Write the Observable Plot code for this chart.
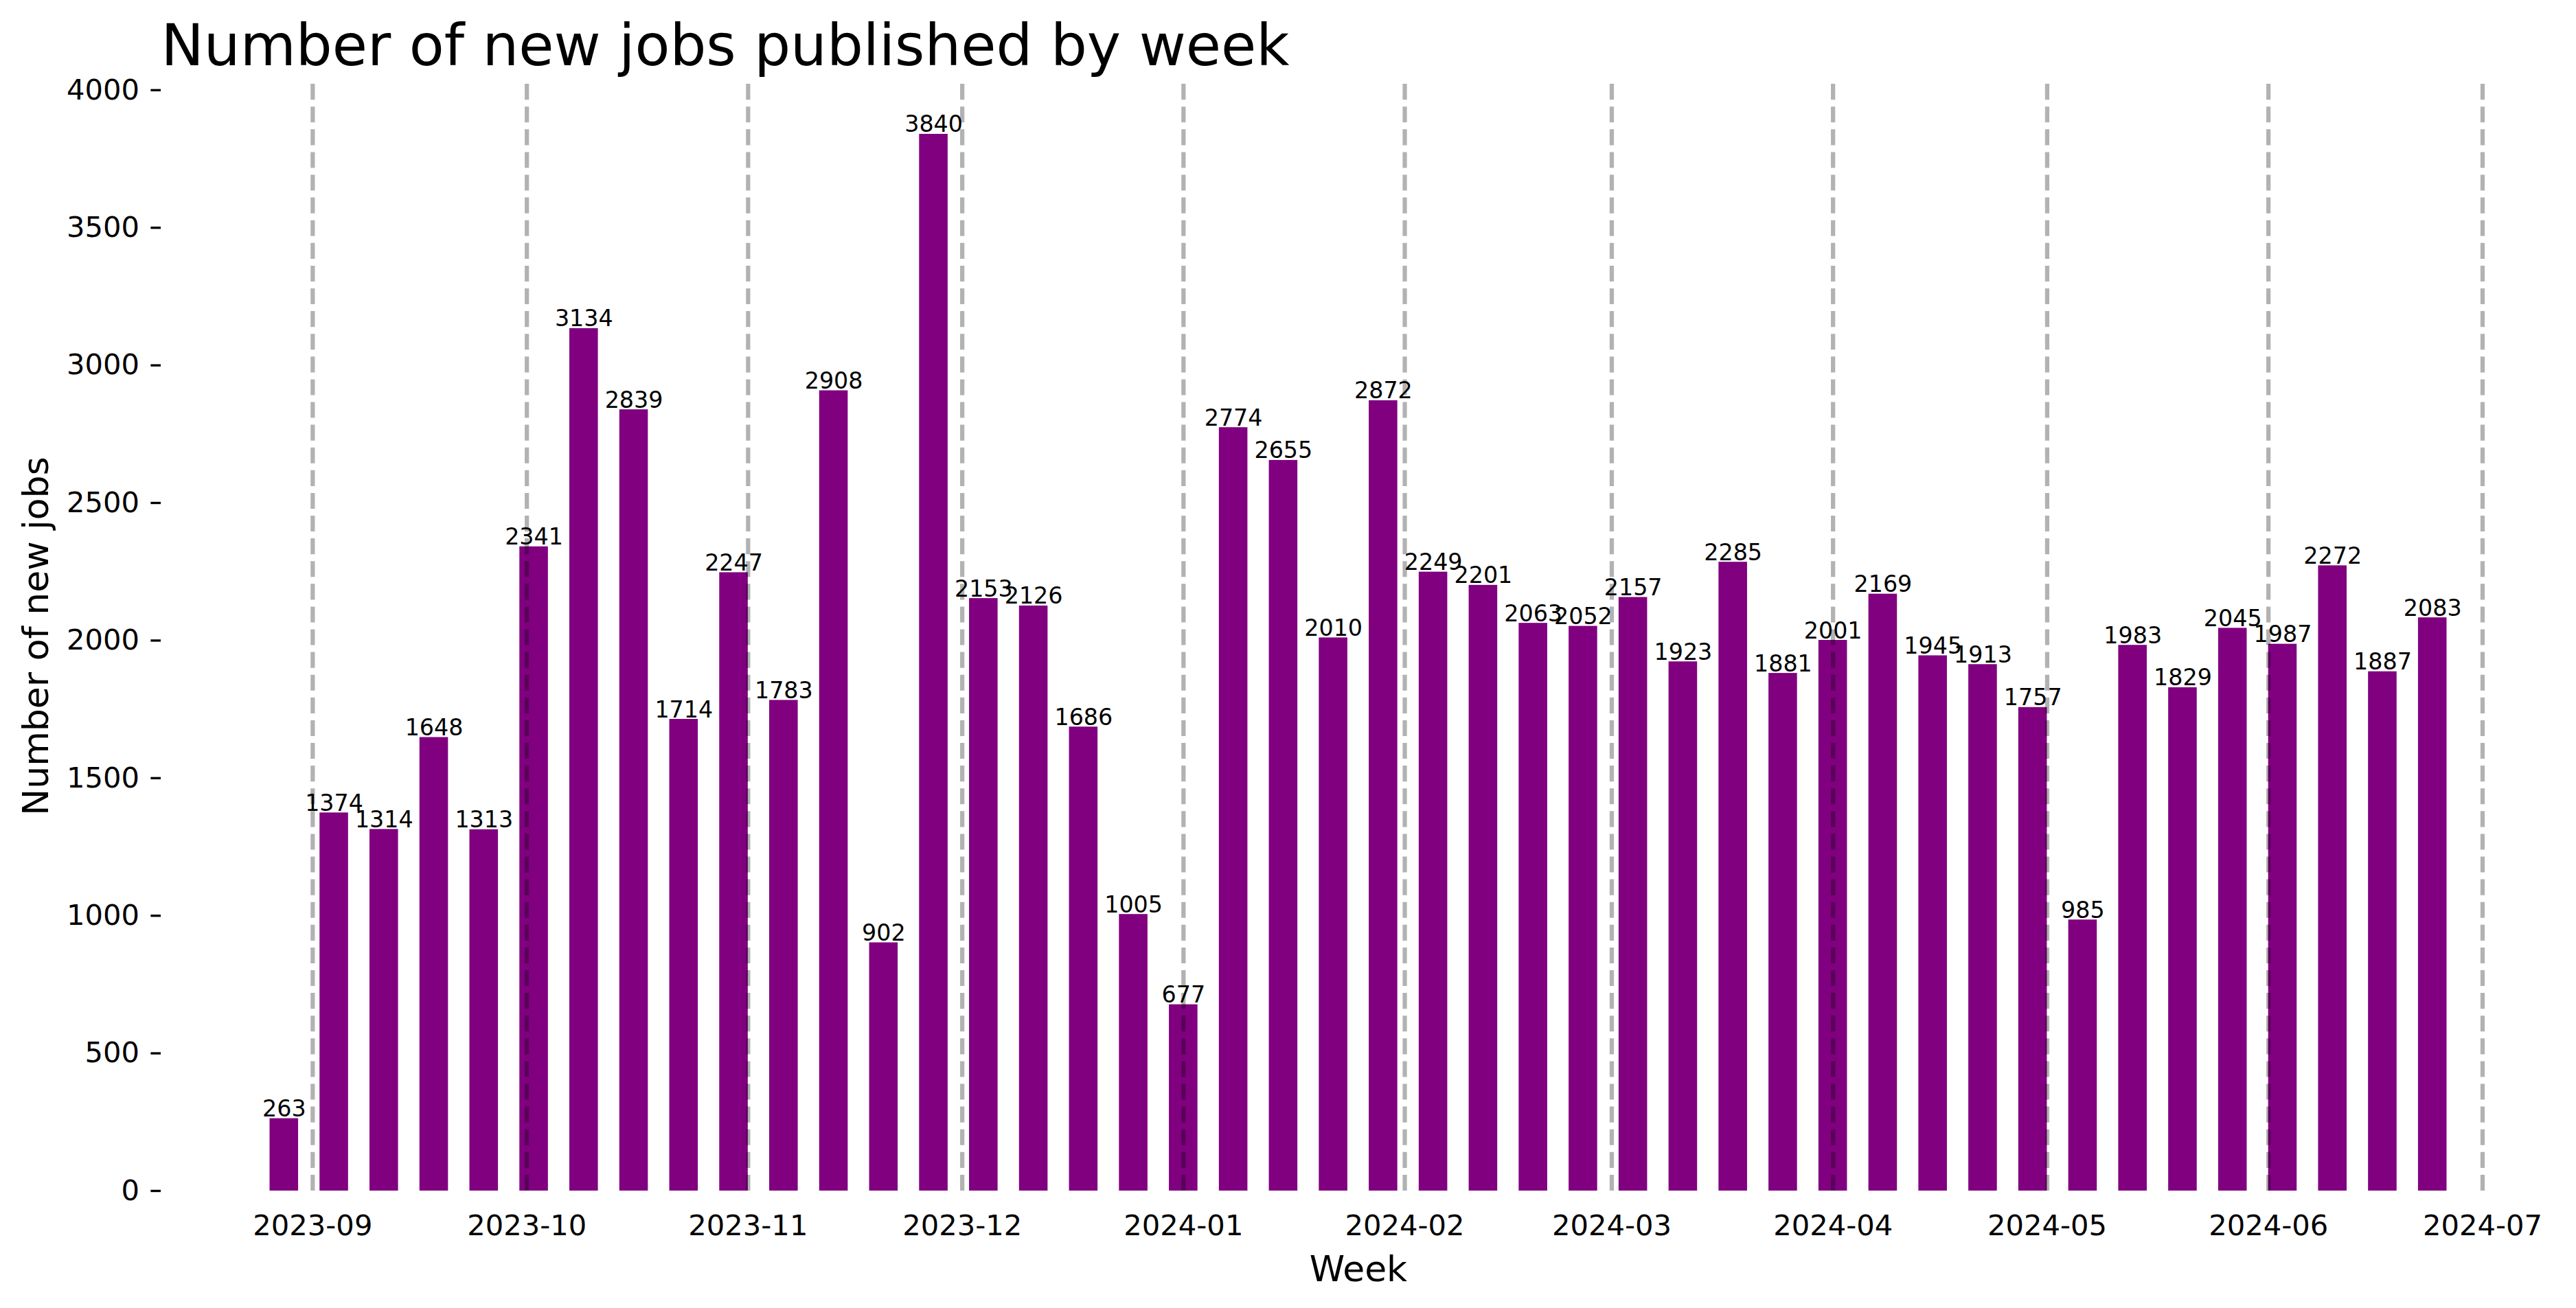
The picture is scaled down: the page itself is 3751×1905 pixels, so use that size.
<!DOCTYPE html>
<html>
<head>
<meta charset="utf-8">
<script src="https://cdn.jsdelivr.net/npm/d3@7"></script>
<script src="https://cdn.jsdelivr.net/npm/@observablehq/plot@0.6"></script>
<style>
  html, body { margin: 0; padding: 0; background: #ffffff; }
  #chart svg { display: block; }
</style>
</head>
<body>
<div id="chart"></div>
<script>
// Week start dates (Mondays)
const weeks = [
  "2023-08-28","2023-09-04","2023-09-11","2023-09-18","2023-09-25",
  "2023-10-02","2023-10-09","2023-10-16","2023-10-23","2023-10-30",
  "2023-11-06","2023-11-13","2023-11-20","2023-11-27",
  "2023-12-04","2023-12-11","2023-12-18","2023-12-25",
  "2024-01-01","2024-01-08","2024-01-15","2024-01-22","2024-01-29",
  "2024-02-05","2024-02-12","2024-02-19","2024-02-26",
  "2024-03-04","2024-03-11","2024-03-18","2024-03-25",
  "2024-04-01","2024-04-08","2024-04-15","2024-04-22","2024-04-29",
  "2024-05-06","2024-05-13","2024-05-20","2024-05-27",
  "2024-06-03","2024-06-10","2024-06-17","2024-06-24"
];
// Number of new jobs per week
const jobs = [
  263, 1374, 1314, 1648, 1313,
  2341, 3134, 2839, 1714, 2247,
  1783, 2908, 902, 3840,
  2153, 2126, 1686, 1005,
  677, 2774, 2655, 2010, 2872,
  2249, 2201, 2063, 2052,
  2157, 1923, 2285, 1881,
  2001, 2169, 1945, 1913, 1757,
  985, 1983, 1829, 2045,
  1987, 2272, 1887, 2083
];
// Month boundaries (dashed lines and x tick labels)
const months = [
  "2023-09-01","2023-10-01","2023-11-01","2023-12-01","2024-01-01",
  "2024-02-01","2024-03-01","2024-04-01","2024-05-01","2024-06-01","2024-07-01"
];
const yTicks = [0, 500, 1000, 1500, 2000, 2500, 3000, 3500, 4000];
const titleText = "Number of new jobs published by week";
const xLabel = "Week";
const yLabel = "Number of new jobs";

const DAY = 24 * 3600 * 1000;
const data = weeks.map((w, i) => ({date: new Date(w + "T00:00:00Z"), value: jobs[i]}));
const monthDates = months.map(m => new Date(m + "T00:00:00Z"));

const chart = Plot.plot({
  width: 3751,
  height: 1905,
  marginLeft: 234,
  marginRight: 30,
  marginTop: 118,
  marginBottom: 171,
  style: {fontFamily: "DejaVu Sans", background: "#ffffff", color: "#000000"},
  x: {type: "utc", domain: [new Date("2023-08-10T18:00:00Z"), new Date("2024-07-11T06:00:00Z")]},
  y: {domain: [0, 4032]},
  marks: [
    Plot.rectY(data, {
      x1: d => new Date(+d.date - 2 * DAY),
      x2: d => new Date(+d.date + 2 * DAY),
      y1: () => 0,
      y2: "value",
      fill: "#800080"
    }),
    Plot.ruleX(monthDates, {
      x: d => d,
      y1: () => 0,
      y2: () => 4032,
      stroke: "#000000",
      strokeOpacity: 0.3,
      strokeWidth: 6.25,
      strokeDasharray: "23.1,10"
    }),
    Plot.text(data, {
      x: "date",
      y: "value",
      text: d => String(d.value),
      lineAnchor: "bottom",
      dy: -3,
      fontSize: 33.33,
      fill: "#000000"
    }),
    Plot.axisY({
      ticks: yTicks,
      tickFormat: d => String(d),
      tickSize: 14.6,
      tickPadding: 17,
      strokeWidth: 3.33,
      fontSize: 41.67,
      label: null
    }),
    Plot.axisX({
      ticks: monthDates,
      tickFormat: d3.utcFormat("%Y-%m"),
      tickSize: 0,
      tickPadding: 35,
      fontSize: 41.67,
      label: null
    }),
    Plot.text([titleText], {
      frameAnchor: "top-left",
      textAnchor: "start",
      lineAnchor: "bottom",
      dy: -24,
      fontSize: 83.33,
      fill: "#000000"
    }),
    Plot.text([yLabel], {
      frameAnchor: "left",
      textAnchor: "middle",
      rotate: -90,
      lineAnchor: "bottom",
      dx: -165,
      fontSize: 52,
      fill: "#000000"
    }),
    Plot.text([xLabel], {
      frameAnchor: "bottom",
      textAnchor: "middle",
      lineAnchor: "bottom",
      dy: 131,
      fontSize: 52,
      fill: "#000000"
    })
  ]
});
document.getElementById("chart").appendChild(chart);
</script>
</body>
</html>
